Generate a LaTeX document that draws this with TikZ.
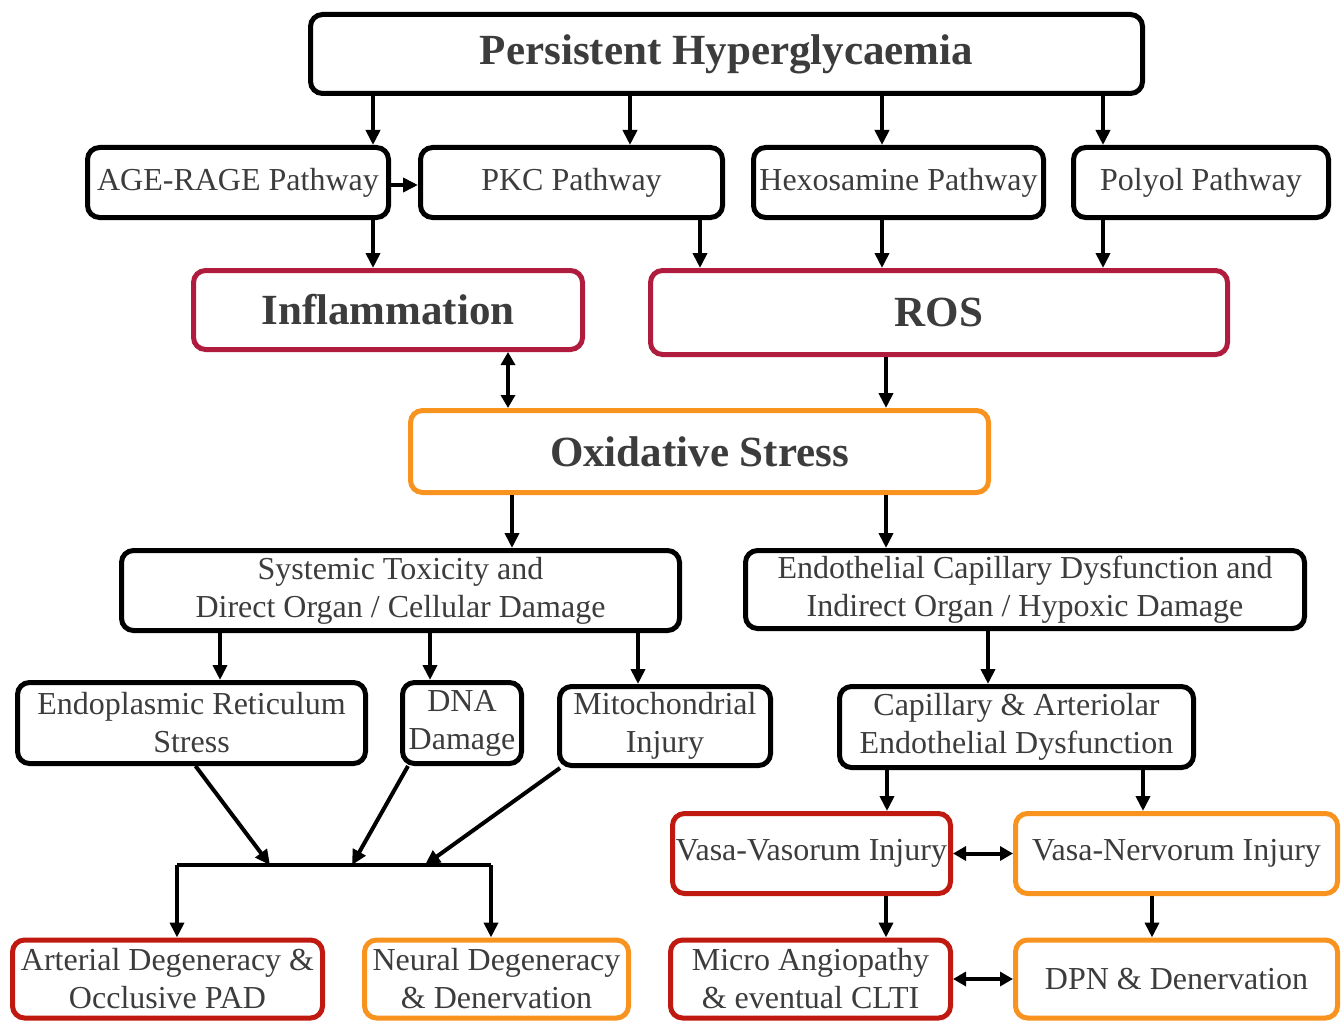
\documentclass[tikz,border=0pt]{standalone}
\usepackage{fontspec}
\setmainfont{Liberation Serif}
\usepackage{tikz}
\usetikzlibrary{arrows.meta,positioning}
\definecolor{txtgray}{HTML}{3C3C3C}
\definecolor{crimson}{HTML}{B01C3E}
\definecolor{amber}{HTML}{F7931E}
\definecolor{bloodred}{HTML}{C01A10}
\tikzset{box/.style={draw,line width=5pt,rounded corners=12pt,align=center,inner sep=3pt,
        text=txtgray,font=\fontsize{32}{38}\selectfont},
    bigbox/.style={box,font=\fontsize{43}{50}\selectfont\bfseries},
    arr/.style={-{Triangle[length=15pt,width=14pt]},line width=4pt},
    darr/.style={{Triangle[length=13pt,width=14pt]}-{Triangle[length=13pt,width=14pt]},line width=4pt}}

\begin{document}
\begin{tikzpicture}[x=1pt,y=-1pt]
\useasboundingbox (0,0) rectangle (1344,1022);

\node (hyper) [bigbox,minimum width=832pt,minimum height=79pt] at (726.5,54) {Persistent Hyperglycaemia};

\node (age)  [box,minimum width=301pt,minimum height=70pt] at (238,182.5) {AGE-RAGE Pathway};
\node (pkc)  [box,minimum width=302pt,minimum height=70pt] at (571.5,182.5) {PKC Pathway};
\node (hexo) [box,minimum width=290pt,minimum height=70pt] at (898.5,182.5) {Hexosamine Pathway};
\node (poly) [box,minimum width=255pt,minimum height=70pt] at (1201,182.5) {Polyol Pathway};

\node (inflam) [bigbox,draw=crimson,minimum width=389pt,minimum height=79pt] at (388,310) {Inflammation};
\node (ros)    [bigbox,draw=crimson,minimum width=577pt,minimum height=84pt] at (939,312.5) {ROS};
\node (oxi)    [bigbox,draw=amber,minimum width=578pt,minimum height=82pt] at (699.5,451.5) {Oxidative Stress};

\node (sys)  [box,minimum width=558pt,minimum height=80pt] at (400.5,590.5) {Systemic Toxicity and\\Direct Organ / Cellular Damage};
\node (endo) [box,minimum width=559pt,minimum height=78pt] at (1025,589.5) {Endothelial Capillary Dysfunction and\\Indirect Organ / Hypoxic Damage};

\node (er)   [box,minimum width=348pt,minimum height=81pt] at (191.5,723) {Endoplasmic Reticulum\\Stress};
\node (dna)  [box,inner sep=1pt,minimum width=119pt,minimum height=81pt] at (462,723) {DNA\\Damage};
\node (mito) [box,minimum width=211pt,minimum height=79pt] at (665,726) {Mitochondrial\\Injury};
\node (cap)  [box,minimum width=354pt,minimum height=81pt] at (1016.5,727) {Capillary \& Arteriolar\\Endothelial Dysfunction};

\node (vvas) [box,draw=bloodred,minimum width=278pt,minimum height=80pt] at (811.5,853.5) {Vasa-Vasorum Injury};
\node (vner) [box,draw=amber,minimum width=322pt,minimum height=80pt] at (1176.5,853.5) {Vasa-Nervorum Injury};

\node (art)  [box,draw=bloodred,minimum width=310pt,minimum height=78pt] at (167.5,979) {Arterial Degeneracy \&\\Occlusive PAD};
\node (neu)  [box,draw=amber,minimum width=264pt,minimum height=78pt] at (496.5,979) {Neural Degeneracy\\\& Denervation};
\node (micro)[box,draw=bloodred,minimum width=280pt,minimum height=78pt] at (810.5,979) {Micro Angiopathy\\\& eventual CLTI};
\node (dpn)  [box,draw=amber,minimum width=322pt,minimum height=78pt] at (1176.5,979) {DPN \& Denervation};

\coordinate (join l) at (177,865);
\coordinate (join r) at (491,865);
\coordinate (in er) at (270,865);
\coordinate (in dna) at (352,865);
\coordinate (in mito) at (425,865);

% top level
\draw [arr] (hyper.south -| 373,0) -- (age.north -| 373,0);
\draw [arr] (hyper.south -| 630,0) -- (pkc.north -| 630,0);
\draw [arr] (hyper.south -| 882,0) -- (hexo.north -| 882,0);
\draw [arr] (hyper.south -| 1103,0) -- (poly.north -| 1103,0);
\draw [arr] (age.east |- 0,185) -- (pkc.west |- 0,185);

\draw [arr] (age.south -| 373,0) -- (inflam.north -| 373,0);
\draw [arr] (pkc.south -| 700,0) -- (ros.north -| 700,0);
\draw [arr] (hexo.south -| 882,0) -- (ros.north -| 882,0);
\draw [arr] (poly.south -| 1103,0) -- (ros.north -| 1103,0);

\draw [darr] (inflam.south -| 508,0) -- (oxi.north -| 508,0);
\draw [arr] (ros.south -| 886,0) -- (oxi.north -| 886,0);

\draw [arr] (oxi.south -| 512,0) -- (sys.north -| 512,0);
\draw [arr] (oxi.south -| 886,0) -- (endo.north -| 886,0);

% left branch
\draw [arr] (sys.south -| 220,0) -- (er.north -| 220,0);
\draw [arr] (sys.south -| 430,0) -- (dna.north -| 430,0);
\draw [arr] (sys.south -| 638,0) -- (mito.north -| 638,0);

\draw [arr] ([xshift=4pt]er.south) -- (in er);
\draw [arr] ([xshift=8pt]dna.south west) -- (in dna);
\draw [arr] ([xshift=3pt]mito.south west) -- (in mito);

\draw [line width=4pt] (join l) -- (join r);
\draw [arr] (join l) -- (art.north -| join l);
\draw [arr] (join r) -- (neu.north -| join r);

% right branch
\draw [arr] (endo.south -| 988,0) -- (cap.north -| 988,0);
\draw [arr] (cap.south -| 887,0) -- (vvas.north -| 887,0);
\draw [arr] (cap.south -| 1143,0) -- (vner.north -| 1143,0);
\draw [darr] (vvas.east) -- (vner.west);
\draw [arr] (vvas.south -| 886,0) -- (micro.north -| 886,0);
\draw [arr] (vner.south -| 1152,0) -- (dpn.north -| 1152,0);
\draw [darr] (micro.east) -- (dpn.west);

\end{tikzpicture}
\end{document}
